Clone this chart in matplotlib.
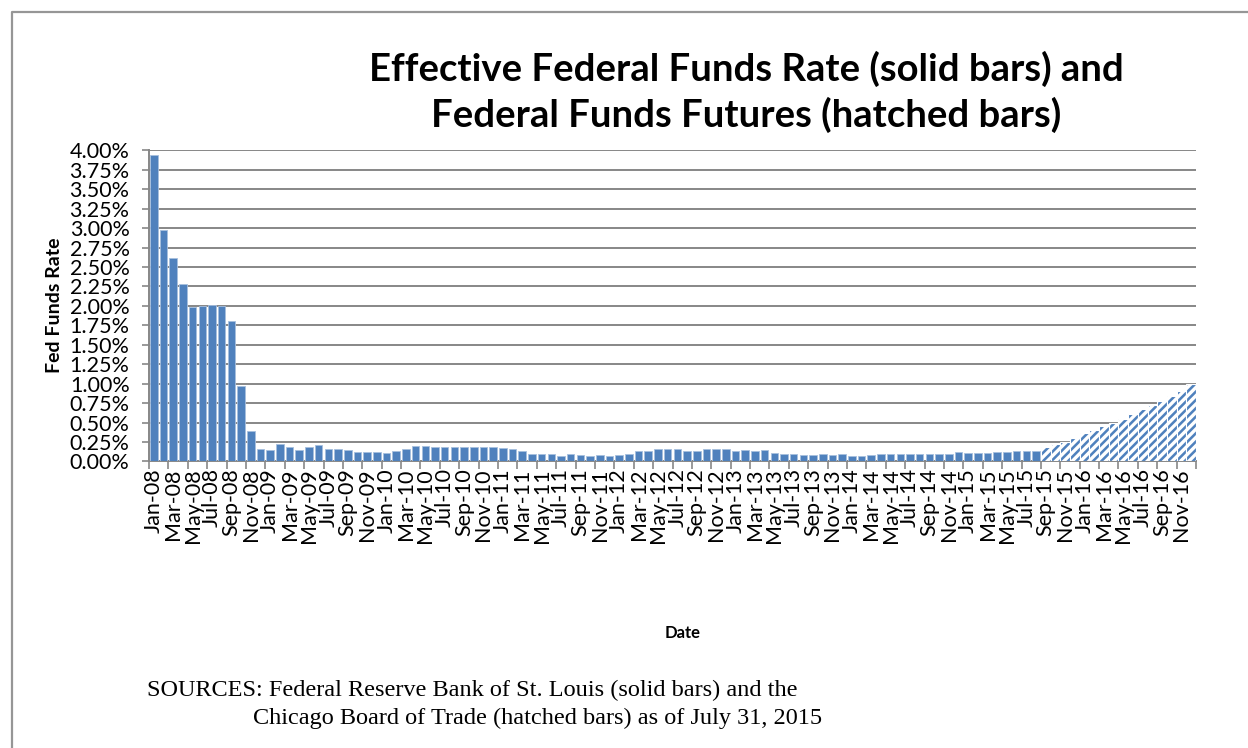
import numpy as np
import matplotlib.pyplot as plt
from matplotlib.lines import Line2D
from matplotlib.ticker import FixedLocator, FuncFormatter

# Monthly effective federal funds rate, Jan-08 .. Aug-15 (percent)
effr = [
    3.94, 2.98, 2.61, 2.28, 1.98, 2.00, 2.01, 2.00, 1.81, 0.97, 0.39, 0.16,  # 2008
    0.15, 0.22, 0.18, 0.15, 0.18, 0.21, 0.16, 0.16, 0.15, 0.12, 0.12, 0.12,  # 2009
    0.11, 0.13, 0.16, 0.20, 0.20, 0.18, 0.18, 0.19, 0.19, 0.19, 0.19, 0.18,  # 2010
    0.17, 0.16, 0.14, 0.10, 0.09, 0.09, 0.07, 0.10, 0.08, 0.07, 0.08, 0.07,  # 2011
    0.08, 0.10, 0.13, 0.14, 0.16, 0.16, 0.16, 0.13, 0.14, 0.16, 0.16, 0.16,  # 2012
    0.14, 0.15, 0.14, 0.15, 0.11, 0.09, 0.09, 0.08, 0.08, 0.09, 0.08, 0.09,  # 2013
    0.07, 0.07, 0.08, 0.09, 0.09, 0.10, 0.09, 0.09, 0.09, 0.09, 0.09, 0.12,  # 2014
    0.11, 0.11, 0.11, 0.12, 0.12, 0.13, 0.13, 0.13,                          # 2015
]

# Fed funds futures implied rate, Sep-15 .. Dec-16 (percent)
futures = [0.18, 0.23, 0.25, 0.30, 0.36, 0.40, 0.45, 0.50,
           0.55, 0.61, 0.67, 0.73, 0.78, 0.84, 0.91, 0.99]

months = ['Jan', 'Feb', 'Mar', 'Apr', 'May', 'Jun',
          'Jul', 'Aug', 'Sep', 'Oct', 'Nov', 'Dec']
dates = [f'{m}-{y:02d}' for y in range(8, 17) for m in months]

blue = '#4F81BD'
grey = '#878787'

fig = plt.figure(figsize=(12.48, 7.48), dpi=100)
ax = fig.add_axes([149 / 1248, 1 - 461.4 / 748, 1047 / 1248, 311 / 748])

n_solid = len(effr)
x_solid = np.arange(n_solid)
x_fut = np.arange(n_solid, n_solid + len(futures))

ax.bar(x_solid, effr, width=0.78, color=blue, edgecolor='#A7BFDE',
       linewidth=0.6, zorder=3)

plt.rcParams['hatch.linewidth'] = 2.4
ax.bar(x_fut, futures, width=1.0, color=blue, edgecolor='white',
       hatch='////', linewidth=0.8, zorder=3)

ax.set_xlim(-0.5, len(dates) - 0.5)
ax.set_ylim(0, 4.0)

# y axis: gridlines every 0.25%
ax.set_yticks(np.arange(0, 4.01, 0.25))
ax.yaxis.set_major_formatter(FuncFormatter(lambda v, p: f'{v:.2f}%'))
ax.grid(axis='y', color=grey, linewidth=1.4, zorder=0)
ax.tick_params(axis='y', length=5, width=1.2, color=grey, labelsize=15.5,
               pad=9)

# x axis: tick marks between every second category, labels on the category
ax.xaxis.set_major_locator(FixedLocator(np.arange(-0.5, len(dates), 2)))
ax.xaxis.set_major_formatter(FuncFormatter(lambda v, p: ''))
ax.xaxis.set_minor_locator(FixedLocator(np.arange(0, len(dates), 2)))
ax.set_xticklabels(dates[::2], minor=True, rotation=90, fontsize=15.5)
ax.tick_params(axis='x', which='major', length=6, width=1.2, color=grey)
ax.tick_params(axis='x', which='minor', length=0, pad=5)

for side in ['top', 'right']:
    ax.spines[side].set_visible(False)
for side in ['left', 'bottom']:
    ax.spines[side].set_color(grey)
    ax.spines[side].set_linewidth(1.4)

for lbl in ax.get_yticklabels() + ax.get_xticklabels(minor=True):
    lbl.set_family('Lato')

fig.text(55 / 1248, 1 - 305 / 748, 'Fed Funds Rate', rotation=90,
         ha='center', va='center', fontsize=14, fontweight='bold',
         family='Lato')

fig.text(746 / 1248, 1 - 92 / 748,
         'Effective Federal Funds Rate (solid bars) and\n'
         'Federal Funds Futures (hatched bars)',
         ha='center', va='center', fontsize=27.5, fontweight='bold',
         family='Lato', linespacing=1.35)

fig.text(683 / 1248, 1 - 633 / 748, 'Date', ha='center', va='center',
         fontsize=12, fontweight='bold', family='Lato')

fig.text(147 / 1248, 1 - 690 / 748,
         'SOURCES: Federal Reserve Bank of St. Louis (solid bars) and the',
         ha='left', va='center', fontsize=17.5, family='Liberation Serif')
fig.text(253 / 1248, 1 - 718 / 748,
         'Chicago Board of Trade (hatched bars) as of July 31, 2015',
         ha='left', va='center', fontsize=17.5, family='Liberation Serif')

# chart frame
fig.add_artist(Line2D([12 / 1248, 12 / 1248, 1.0],
                      [0.0, 1 - 11.5 / 748, 1 - 11.5 / 748],
                      transform=fig.transFigure, color='#969696',
                      linewidth=1.6))

fig.savefig('out.png', dpi=100)
